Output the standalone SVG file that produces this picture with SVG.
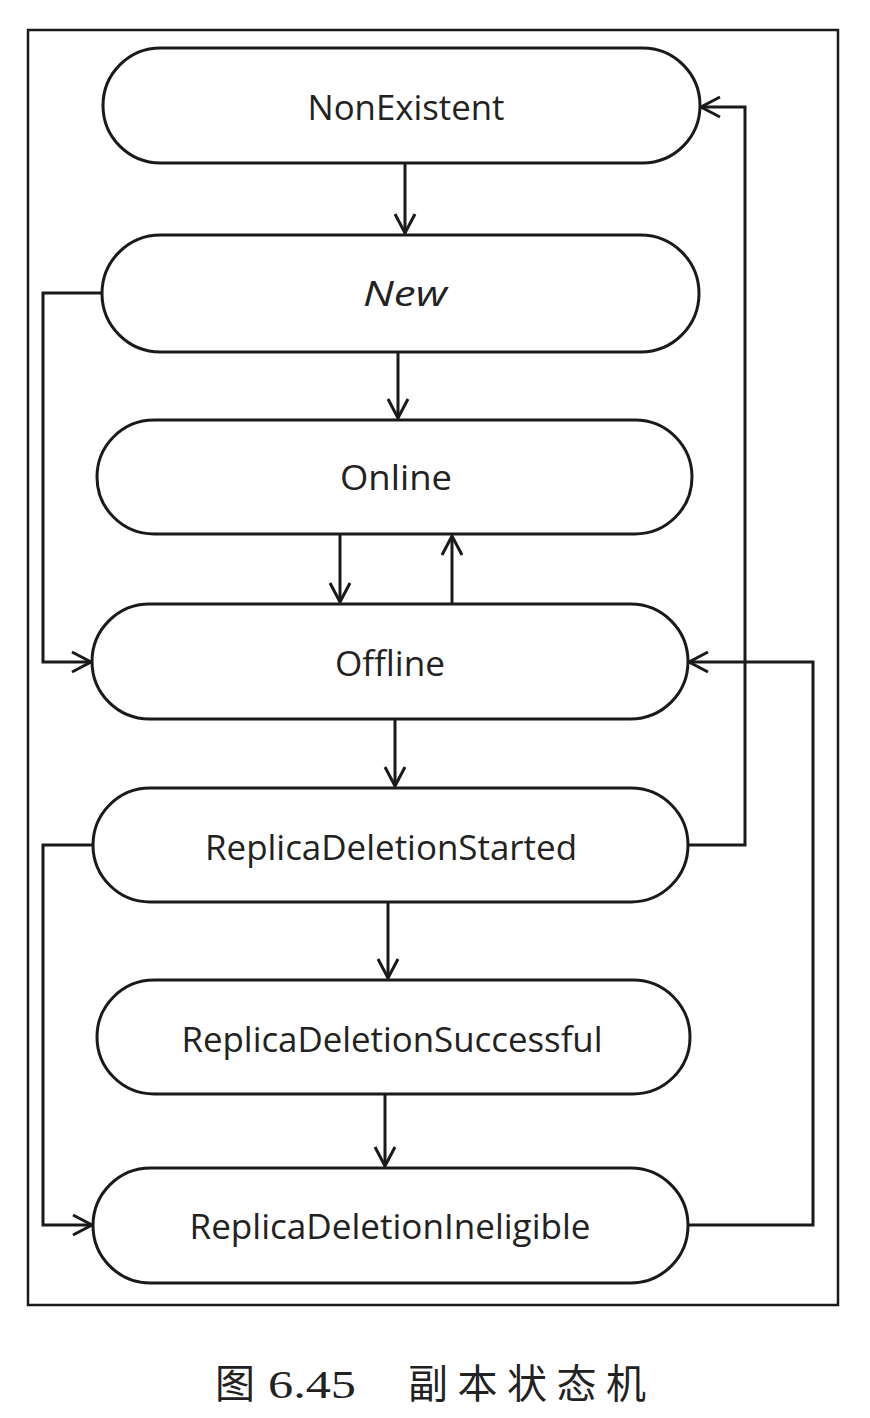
<svg xmlns="http://www.w3.org/2000/svg" width="870" height="1418" viewBox="0 0 870 1418">
<style>
.node{fill:#fff;stroke:#1a1a1a;stroke-width:3}
.lbl{font-family:"Open Sans","Noto Sans","DejaVu Sans",sans-serif;font-size:35px;fill:#222;text-anchor:middle}
.conn{fill:none;stroke:#1a1a1a;stroke-width:3}
.frame{fill:none;stroke:#1a1a1a;stroke-width:2.5}
.cap{font-family:"Liberation Serif","Noto Sans CJK SC",serif;font-size:40px;fill:#222}
</style>
<defs>
<marker id="arr" markerUnits="userSpaceOnUse" markerWidth="26" markerHeight="26" viewBox="-22 -13 26 26" refX="0" refY="0" orient="auto">
<path d="M-19,-10 L0,0 L-19,10" fill="none" stroke="#1a1a1a" stroke-width="3"/>
</marker>
</defs>
<rect class="frame" x="28" y="30" width="810" height="1275"/>
<g id="connectors">
<path class="conn" d="M405,163 V233" marker-end="url(#arr)"/>
<path class="conn" d="M398,352 V418" marker-end="url(#arr)"/>
<path class="conn" d="M340,534 V602" marker-end="url(#arr)"/>
<path class="conn" d="M452,604 V536" marker-end="url(#arr)"/>
<path class="conn" d="M395,719 V786" marker-end="url(#arr)"/>
<path class="conn" d="M388,902 V978" marker-end="url(#arr)"/>
<path class="conn" d="M385,1094 V1166" marker-end="url(#arr)"/>
<path class="conn" d="M102,293 H43 V662 H91" marker-end="url(#arr)"/>
<path class="conn" d="M93,845 H43 V1225 H92" marker-end="url(#arr)"/>
<path class="conn" d="M688,845 H745 V107 H701" marker-end="url(#arr)"/>
<path class="conn" d="M688,1225 H813 V662 H689" marker-end="url(#arr)"/>
</g>
<g id="n-nonexistent">
<rect class="node" x="103" y="48" width="597" height="115" rx="57.5"/>
<text class="lbl" x="406" y="120" textLength="197" lengthAdjust="spacingAndGlyphs">NonExistent</text>
</g>
<g id="n-new">
<rect class="node" x="102" y="235" width="597" height="117" rx="58.5"/>
<text class="lbl" x="405" y="306" font-style="italic" textLength="84" lengthAdjust="spacingAndGlyphs">New</text>
</g>
<g id="n-online">
<rect class="node" x="97" y="420" width="595" height="114" rx="57"/>
<text class="lbl" x="396" y="490" textLength="112" lengthAdjust="spacingAndGlyphs">Online</text>
</g>
<g id="n-offline">
<rect class="node" x="92" y="604" width="596" height="115" rx="57.5"/>
<text class="lbl" x="390" y="676" textLength="110" lengthAdjust="spacingAndGlyphs">Offline</text>
</g>
<g id="n-started">
<rect class="node" x="93" y="788" width="595" height="114" rx="57"/>
<text class="lbl" x="391" y="860" textLength="372" lengthAdjust="spacingAndGlyphs">ReplicaDeletionStarted</text>
</g>
<g id="n-successful">
<rect class="node" x="97" y="980" width="593" height="114" rx="57"/>
<text class="lbl" x="392" y="1052" textLength="421" lengthAdjust="spacingAndGlyphs">ReplicaDeletionSuccessful</text>
</g>
<g id="n-ineligible">
<rect class="node" x="93" y="1168" width="595" height="115" rx="57.5"/>
<text class="lbl" x="390" y="1239" textLength="401" lengthAdjust="spacingAndGlyphs">ReplicaDeletionIneligible</text>
</g>
<text class="cap" y="1398"><tspan x="215">图</tspan><tspan x="268" textLength="88" lengthAdjust="spacingAndGlyphs">6.45</tspan><tspan x="408" textLength="238" lengthAdjust="spacing">副本状态机</tspan></text>
</svg>
